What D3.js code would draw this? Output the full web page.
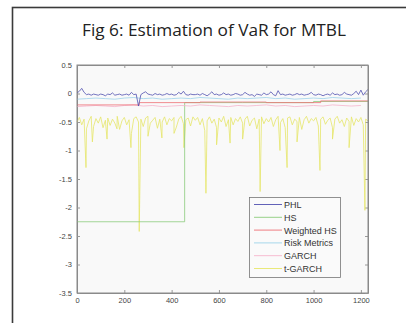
<!DOCTYPE html>
<html>
<head>
<meta charset="utf-8">
<script src="https://cdn.jsdelivr.net/npm/d3@7"></script>
<style>
  body { margin: 0; background: #fff; }
  svg { display: block; }
</style>
</head>
<body>
<svg id="chart" width="406" height="323"></svg>
<script>
// sample step for the noisy series
const STEP = 10;

const xTicks = [0, 200, 400, 600, 800, 1000, 1200];
const yTicks = [0.5, 0, -0.5, -1, -1.5, -2, -2.5, -3, -3.5];
const yTickLabels = ["0.5", "0", "-0.5", "-1", "-1.5", "-2", "-2.5", "-3", "-3.5"];

const seriesNames = ["PHL", "HS", "Weighted HS", "Risk Metrics", "GARCH", "t-GARCH"];

// PHL, one value every 10 days
const phl = [
  0.01, 0.04, 0.09, 0.02, -0.02, -0.01, -0.03, -0.01, -0.02, -0.03,
  -0.01, -0.02, -0.04, -0.01, -0.02, 0.01, -0.03, -0.02, -0.01, -0.03,
  -0.02, -0.01, -0.03, 0.02, -0.02, -0.01, -0.22, -0.02, 0.01, 0.03,
  -0.01, -0.02, -0.03, 0.00, -0.02, -0.01, -0.03, -0.02, 0.00, -0.02,
  -0.01, -0.03, -0.02, 0.02, -0.01, 0.04, -0.02, -0.03, -0.01, -0.02,
  -0.02, -0.01, -0.03, 0.00, -0.02, -0.04, -0.01, 0.03, -0.02, -0.01,
  -0.03, -0.02, 0.01, -0.02, -0.01, -0.03, -0.02, 0.00, -0.01, -0.03,
  -0.02, 0.02, -0.01, -0.03, -0.02, -0.05, -0.01, -0.02, -0.03, 0.01,
  -0.02, -0.01, 0.03, -0.02, -0.04, 0.05, -0.02, -0.01, -0.03, -0.02,
  -0.01, -0.03, -0.02, 0.00, -0.02, -0.01, -0.03, -0.02, -0.01, 0.02,
  -0.02, -0.03, -0.01, -0.02, -0.04, -0.02, -0.01, -0.03, 0.01, -0.02,
  -0.01, -0.03, -0.02, 0.02, -0.01, -0.02, -0.03, 0.00, 0.04, -0.02,
  0.06, -0.03, 0.03, 0.07
];

// HS and Weighted HS change in steps
const hsDays = [0, 455, 700, 1000, 1230];
const hsValues = [-2.25, -0.16, -0.16, -0.14, -0.14];
const whsDays = [0, 263, 520, 800, 1030, 1230];
const whsValues = [-0.20, -0.16, -0.15, -0.16, -0.13, -0.13];

// Risk Metrics and GARCH, one value every 40 days
const rmValues = [
  -0.10, -0.09, -0.08, -0.09, -0.10, -0.08, -0.07, -0.09, -0.08, -0.10,
  -0.09, -0.08, -0.09, -0.07, -0.08, -0.09, -0.10, -0.08, -0.09, -0.08,
  -0.07, -0.09, -0.08, -0.10, -0.09, -0.08, -0.09, -0.07, -0.08, -0.09,
  -0.08
];
const garchValues = [
  -0.23, -0.22, -0.21, -0.22, -0.23, -0.21, -0.20, -0.22, -0.21, -0.23,
  -0.22, -0.21, -0.22, -0.20, -0.21, -0.22, -0.23, -0.21, -0.22, -0.21,
  -0.20, -0.22, -0.21, -0.23, -0.22, -0.21, -0.22, -0.20, -0.21, -0.22,
  -0.21
];

// t-GARCH, one value every 10 days, plus the sharp drops
const tgarch = [
  -0.50, -0.42, -0.55, -0.45, -0.62, -0.48, -0.40, -0.58, -0.44, -0.52,
  -0.41, -0.60, -0.47, -0.43, -0.56, -0.45, -0.52, -0.40, -0.63, -0.48,
  -0.42, -0.55, -0.46, -0.70, -0.44, -0.41, -0.50, -0.45, -0.58, -0.43,
  -0.40, -0.52, -0.47, -0.42, -0.61, -0.45, -0.50, -0.41, -0.55, -0.44,
  -0.48, -0.42, -0.59, -0.45, -0.40, -0.53, -0.46, -0.43, -0.57, -0.41,
  -0.47, -0.42, -0.55, -0.44, -0.65, -0.48, -0.41, -0.52, -0.45, -0.60,
  -0.43, -0.50, -0.40, -0.58, -0.46, -0.42, -0.55, -0.44, -0.49, -0.41,
  -0.52, -0.45, -0.40, -0.57, -0.47, -0.43, -0.62, -0.45, -0.41, -0.53,
  -0.44, -0.50, -0.42, -0.58, -0.46, -0.40, -0.51, -0.44, -0.60, -0.43,
  -0.41, -0.55, -0.45, -0.49, -0.42, -0.63, -0.46, -0.40, -0.52, -0.44,
  -0.48, -0.42, -0.57, -0.45, -0.41, -0.54, -0.47, -0.43, -0.60, -0.45,
  -0.40, -0.52, -0.46, -0.58, -0.43, -0.49, -0.41, -0.56, -0.44, -0.50,
  -0.42, -0.55, -0.45, -0.48
];
const tgarchDropDays = [38, 65, 127, 169, 228, 263, 300, 359, 410, 452, 545, 590, 647, 700, 774, 858, 888, 930, 1027, 1080, 1150, 1217];
const tgarchDropValues = [-1.3, -0.85, -0.8, -0.62, -0.95, -2.42, -0.75, -0.78, -0.7, -0.95, -1.75, -0.9, -0.87, -0.8, -1.72, -1.0, -1.3, -0.85, -1.35, -0.8, -0.95, -2.05];

const COLORS = ["#5050b0", "#8ccc7c", "#ee6e74", "#9dd2ea", "#f6b4cc", "#e6e66a"];

const WIDTH = 406, HEIGHT = 323;
const PLOT = { left: 77, right: 368, top: 65, bottom: 293 };

const X_SCALE = d3.scaleLinear().domain([0, 1230]).range([PLOT.left, PLOT.right]);
const Y_SCALE = d3.scaleLinear().domain([-3.5, 0.5]).range([PLOT.bottom, PLOT.top]);

function evenly(values, step) {
  return values.map((v, i) => ({ t: i * step, v: v }));
}
function paired(days, values) {
  return days.map((t, i) => ({ t: t, v: values[i] }));
}

function createFrame(svg) {
  svg.append("rect")
    .attr("x", 12.5).attr("y", 7.5)
    .attr("width", 420).attr("height", 340)
    .attr("fill", "#fff")
    .attr("stroke", "#3a3a3a")
    .attr("stroke-width", 1.6);

  svg.append("text")
    .attr("x", 214).attr("y", 36)
    .attr("text-anchor", "middle")
    .attr("font-family", "'Open Sans', sans-serif")
    .attr("font-size", 15.5)
    .attr("fill", "#222")
    .attr("textLength", 264)
    .attr("lengthAdjust", "spacingAndGlyphs")
    .text("Fig 6: Estimation of VaR for MTBL");

  svg.append("rect")
    .attr("x", PLOT.left).attr("y", PLOT.top)
    .attr("width", PLOT.right - PLOT.left)
    .attr("height", PLOT.bottom - PLOT.top)
    .attr("fill", "#f9f9f9");
}

function createAxes(svg) {
  const axisStyle = g => {
    g.selectAll("path").attr("stroke", "#8a8a8a");
    g.selectAll("line").attr("stroke", "#9a9a9a");
    g.selectAll("text")
      .attr("font-family", "'Liberation Sans', sans-serif")
      .attr("font-size", 7.5)
      .attr("fill", "#444");
  };

  svg.append("g")
    .attr("transform", `translate(0, ${PLOT.bottom})`)
    .call(d3.axisBottom(X_SCALE).tickValues(xTicks).tickSize(-3).tickPadding(5).tickSizeOuter(0)
      .tickFormat(d3.format("d")))
    .call(axisStyle);

  svg.append("g")
    .attr("transform", `translate(0, ${PLOT.top})`)
    .call(d3.axisTop(X_SCALE).tickValues(xTicks).tickSize(-3).tickFormat("").tickSizeOuter(0))
    .call(axisStyle);

  svg.append("g")
    .attr("transform", `translate(${PLOT.left}, 0)`)
    .call(d3.axisLeft(Y_SCALE).tickValues(yTicks).tickSize(-3).tickPadding(5).tickSizeOuter(0)
      .tickFormat((d, i) => yTickLabels[i]))
    .call(axisStyle);

  svg.append("g")
    .attr("transform", `translate(${PLOT.right}, 0)`)
    .call(d3.axisRight(Y_SCALE).tickValues(yTicks).tickSize(-3).tickFormat("").tickSizeOuter(0))
    .call(axisStyle);
}

function createLines(svg) {
  const line = d3.line().x(d => X_SCALE(d.t)).y(d => Y_SCALE(d.v));
  const stepLine = d3.line().x(d => X_SCALE(d.t)).y(d => Y_SCALE(d.v)).curve(d3.curveStepAfter);

  const tgarchPoints = evenly(tgarch, STEP)
    .concat(paired(tgarchDropDays, tgarchDropValues))
    .sort((a, b) => a.t - b.t);

  const SERIES = [
    { name: seriesNames[5], points: tgarchPoints, gen: line, color: COLORS[5] },
    { name: seriesNames[1], points: paired(hsDays, hsValues), gen: stepLine, color: COLORS[1] },
    { name: seriesNames[4], points: evenly(garchValues, 40), gen: line, color: COLORS[4] },
    { name: seriesNames[2], points: paired(whsDays, whsValues), gen: stepLine, color: COLORS[2] },
    { name: seriesNames[3], points: evenly(rmValues, 40), gen: line, color: COLORS[3] },
    { name: seriesNames[0], points: evenly(phl, STEP), gen: line, color: COLORS[0] }
  ];

  svg.append("g")
    .selectAll(".series")
    .data(SERIES)
    .enter()
    .append("path")
    .classed("series", true)
    .attr("d", d => d.gen(d.points))
    .attr("fill", "none")
    .attr("stroke", d => d.color)
    .attr("stroke-width", 0.8);

  svg.append("rect")
    .attr("x", PLOT.left).attr("y", PLOT.top)
    .attr("width", PLOT.right - PLOT.left)
    .attr("height", PLOT.bottom - PLOT.top)
    .attr("fill", "none")
    .attr("stroke", "#8a8a8a")
    .attr("stroke-width", 1);
}

function createLegend(svg) {
  const box = { x: 249.5, y: 197.5, w: 91, h: 80 };
  const legend = svg.append("g");

  legend.append("rect")
    .attr("x", box.x).attr("y", box.y)
    .attr("width", box.w).attr("height", box.h)
    .attr("fill", "#fafafa")
    .attr("stroke", "#777")
    .attr("stroke-width", 0.8);

  const ROWS = legend.selectAll(".entry")
    .data(seriesNames)
    .enter()
    .append("g")
    .classed("entry", true)
    .attr("transform", (d, i) => `translate(0, ${box.y + 7 + i * 12.8})`);

  ROWS.append("line")
    .attr("x1", 254).attr("x2", 282)
    .attr("y1", 0).attr("y2", 0)
    .attr("stroke", (d, i) => COLORS[i])
    .attr("stroke-width", 0.9);

  ROWS.append("text")
    .attr("x", 284).attr("y", 3.5)
    .attr("font-family", "'Liberation Sans', sans-serif")
    .attr("font-size", 9)
    .attr("fill", "#333")
    .text(d => d);
}

const svg = d3.select("#chart");
createFrame(svg);
createAxes(svg);
createLines(svg);
createLegend(svg);
</script>
</body>
</html>
